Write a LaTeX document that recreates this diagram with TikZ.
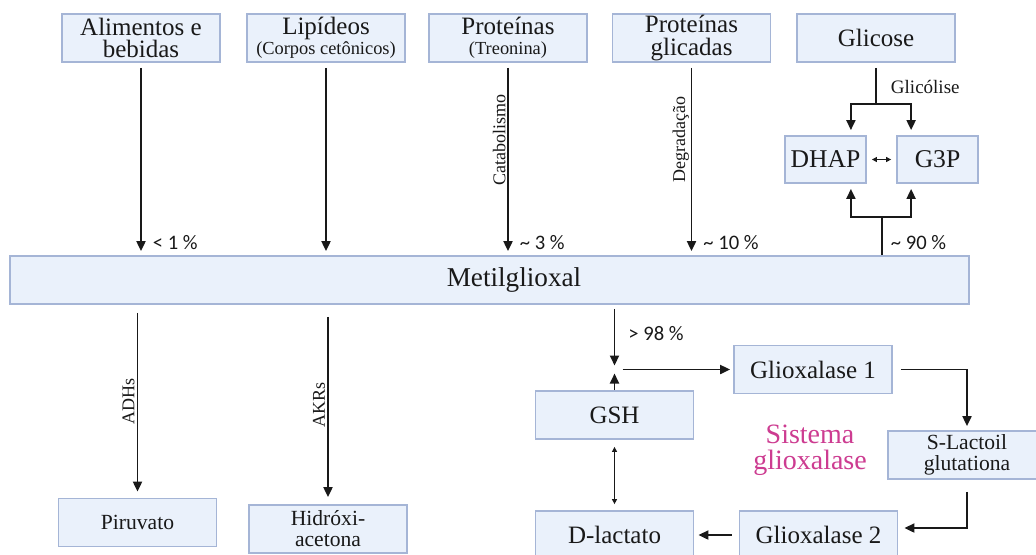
\documentclass[tikz,border=0pt]{standalone}
\usepackage{fontspec}
\setmainfont{Liberation Serif}
\newfontfamily\pctfont{Carlito}
\usetikzlibrary{arrows.meta,calc}

\definecolor{boxfill}{RGB}{234,241,251}
\definecolor{boxline}{RGB}{165,181,214}
\definecolor{sysmagenta}{RGB}{205,60,145}
\definecolor{ink}{RGB}{25,25,25}
\newcommand{\smalltxt}{\fontsize{9.2}{9}\selectfont}

\tikzset{
  box/.style={draw=boxline, fill=boxfill, line width=0.9pt, minimum width=79pt,
    minimum height=24pt, inner sep=0pt, align=center, text=ink,
    font=\fontsize{12.5}{11.3}\selectfont},
  smallbox/.style={box, font=\fontsize{10.8}{10.5}\selectfont},
  chembox/.style={box, minimum width=40.5pt, minimum height=23.5pt,
    font=\fontsize{12.8}{12}\selectfont},
  boxtxt/.style={text=ink, font=\fontsize{13.6}{13}\selectfont},
  conn/.style={line width=0.95pt, draw=ink},
  arr/.style={conn, -{Triangle[length=5pt,width=4.5pt]}},
  dbl/.style={line width=0.55pt, draw=ink,
    {Triangle[length=2.5pt,width=2.5pt]}-{Triangle[length=2.5pt,width=2.5pt]}},
  pct/.style={font=\pctfont\fontsize{10.3}{10}\selectfont, text=ink, inner sep=1pt},
  lbl/.style={font=\fontsize{9.5}{9}\selectfont, text=ink, inner sep=1pt},
  rot/.style={lbl, rotate=90, font=\fontsize{9}{9}\selectfont},
  sys/.style={text=sysmagenta, align=center, font=\fontsize{14}{12.8}\selectfont}
}

\begin{document}
\begin{tikzpicture}[x=0.5pt,y=-0.5pt]
  \path[use as bounding box, fill=white] (0,0) rectangle (1036,554);
  \clip (0,0) rectangle (1036,554);
  % sources
  \node[box] (food) at (141,38) {Alimentos e\\bebidas};
  \node[box] (lip) at (326,38) {Lipídeos\\[-1.5pt]{\smalltxt (Corpos cetônicos)}};
  \node[box] (prot) at (508,38) {Proteínas\\[-1.5pt]{\smalltxt (Treonina)}};
  \node[box] (glyc) at (691.5,38) {Proteínas\\glicadas};
  \node[box] (glc) at (876,38) {Glicose};
  \node[chembox] (dhap) at (825.5,159.5) {DHAP};
  \node[chembox] (g3p) at (937.5,159.5) {G3P};
  % central box
  \node[box, minimum width=479.5pt] (mg) at (489.5,280) {};
  \node[boxtxt] (mgtxt) at (514,280) {Metilglioxal};
  % products
  \node[smallbox] (pyr) at (137.5,522.5) {Piruvato};
  \node[smallbox] (hac) at (328,529) {Hidróxi-\\acetona};
  \node[box] (gsh) at (614.5,415) {GSH};
  \node[box] (glo1) at (813,369.5) {Glioxalase 1};
  \node[smallbox] (slg) at (967,455) {S-Lactoil\\glutationa};
  \node[box] (dlac) at (614.5,535) {D-lactato};
  \node[box] (glo2) at (818.5,535) {Glioxalase 2};
  \node[sys] (sys) at (810,450) {Sistema\\glioxalase};

  % inflow into metilglioxal
  \foreach \src/\pct in {food/{< 1 \%}, lip/{}, prot/{\textasciitilde\ 3 \%}, glyc/{\textasciitilde\ 10 \%}}
    \draw[arr, shorten <=2.5pt, shorten >=2pt] (\src.south) -- (\src.south |- mg.north)
      node[pct, at end, anchor=west, xshift=4.5pt, yshift=6.5pt] {\pct};
  \path (prot.south) -- (prot.south |- mg.north) node[rot, pos=0.4, anchor=south] {Catabolismo};
  \path (glyc.south) -- (glyc.south |- mg.north) node[rot, pos=0.4, anchor=south] {Degradação};

  % glycolysis branch
  \coordinate (gsplit) at (876,104);
  \draw[conn, shorten <=2.5pt] (glc.south) -- (gsplit)
    node[lbl, midway, anchor=west, xshift=6pt, yshift=-2pt] {Glicólise};
  \draw[arr, shorten >=2.5pt] (gsplit) -| ([xshift=-8pt]dhap.north east);
  \draw[arr, shorten >=2.5pt] (gsplit) -| ([xshift=7.5pt]g3p.north west);
  \draw[dbl, shorten <=2.5pt, shorten >=2.5pt] (dhap) -- (g3p);
  \coordinate (msplit) at (882,217);
  \draw[conn] (mg.north -| msplit) -- (msplit)
    node[pct, at start, anchor=west, xshift=3pt, yshift=6.5pt] {\textasciitilde\ 90 \%};
  \draw[arr, shorten >=2.5pt] (msplit) -| ([xshift=-8pt]dhap.south east);
  \draw[arr, shorten >=2.5pt] (msplit) -| ([xshift=7.5pt]g3p.south west);

  % outflow
  \draw[arr, shorten <=4pt, shorten >=3pt] (pyr.north |- mg.south) -- (pyr.north)
    node[rot, midway, anchor=south] {ADHs};
  \draw[arr, shorten <=6pt, shorten >=3.5pt] (hac.north |- mg.south) -- (hac.north)
    node[rot, midway, anchor=south] {AKRs};

  % glyoxalase cycle
  \coordinate (jn) at (gsh.north |- glo1.west);
  \draw[arr, shorten <=2pt, shorten >=2pt] (mg.south -| jn) -- (jn)
    node[pct, midway, anchor=west, xshift=5.5pt, yshift=2pt] {> 98 \%};
  \draw[arr, shorten >=2pt] (gsh.north) -- (jn);
  \draw[arr, shorten <=4pt, shorten >=1.5pt] (jn) -- (glo1.west);
  \draw[arr, shorten <=4pt, shorten >=2pt] (glo1.east) -| (slg.north);
  \draw[arr, shorten <=6pt, shorten >=3pt] (slg.south) |- ([yshift=3.5pt]glo2.east);
  \draw[arr, shorten <=3.5pt, shorten >=2pt] (glo2.west) -- (dlac.east);
  \draw[dbl, shorten <=3.5pt, shorten >=3pt] (gsh.south) -- (dlac.north);
\end{tikzpicture}
\end{document}
